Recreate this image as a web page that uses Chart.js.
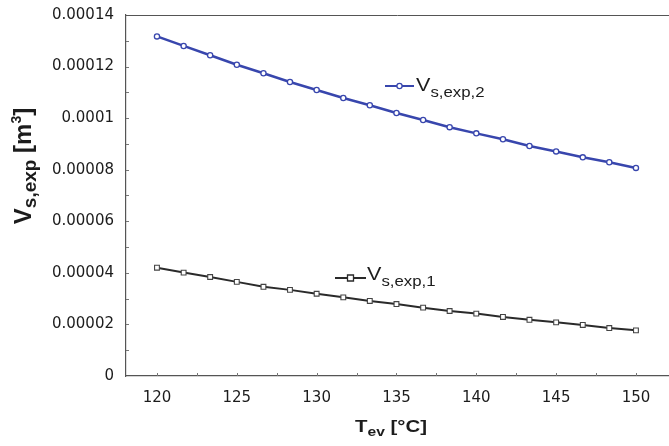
<!DOCTYPE html>
<html>
<head>
<meta charset="utf-8">
<script src="https://cdn.jsdelivr.net/npm/chart.js@4/dist/chart.umd.min.js"></script>
<style>
  html, body { margin: 0; padding: 0; background: #ffffff; overflow: hidden; }
  #wrap { width: 669px; height: 446px; }
</style>
</head>
<body>
<div id="wrap"><canvas id="c" width="669" height="446"></canvas></div>
<script>
// ---- data ----
const tEv = [120, 121.67, 123.33, 125, 126.67, 128.33, 130, 131.67, 133.33, 135,
             136.67, 138.33, 140, 141.67, 143.33, 145, 146.67, 148.33, 150];
const vsExp2 = [1.317e-4, 1.280e-4, 1.244e-4, 1.207e-4, 1.174e-4, 1.140e-4, 1.109e-4,
                1.078e-4, 1.050e-4, 1.020e-4, 0.993e-4, 0.965e-4, 0.941e-4, 0.918e-4,
                0.892e-4, 0.871e-4, 0.848e-4, 0.829e-4, 0.807e-4];
const vsExp1 = [4.20e-5, 4.01e-5, 3.84e-5, 3.65e-5, 3.46e-5, 3.34e-5, 3.19e-5,
                3.05e-5, 2.91e-5, 2.79e-5, 2.65e-5, 2.52e-5, 2.42e-5, 2.29e-5,
                2.18e-5, 2.08e-5, 1.98e-5, 1.86e-5, 1.77e-5];
const xTickValues = [120, 125, 130, 135, 140, 145, 150];
const yTickValues = [0, 0.00002, 0.00004, 0.00006, 0.00008, 0.0001, 0.00012, 0.00014];
const yTickLabels = ['0', '0.00002', '0.00004', '0.00006', '0.00008', '0.0001', '0.00012', '0.00014'];
const seriesNames = ['V_s,exp,2', 'V_s,exp,1'];

const FONT = '"Liberation Sans", Arial, Helvetica, sans-serif';
const TICKFONT = '"DejaVu Sans", sans-serif';
const TEXT = '#1c1c1c';
const BLUE = '#3846ad';
const DARK = '#2a2a2a';
const SX = 1.2; // horizontal stretch of the reference lettering

function drawParts(ctx, x, y, parts) {
  let cx = x;
  for (const p of parts) {
    ctx.font = (p.bold ? 'bold ' : '') + p.size + 'px ' + FONT;
    ctx.fillText(p.t, cx, y + (p.dy || 0));
    cx += ctx.measureText(p.t).width;
  }
  return cx - x;
}
function partsWidth(ctx, parts) {
  let w = 0;
  for (const p of parts) {
    ctx.font = (p.bold ? 'bold ' : '') + p.size + 'px ' + FONT;
    w += ctx.measureText(p.t).width;
  }
  return w;
}
function drawStretched(ctx, x, y, parts, sx) {
  ctx.save();
  ctx.translate(x, y);
  ctx.scale(sx, 1);
  drawParts(ctx, 0, 0, parts);
  ctx.restore();
}

const decor = {
  id: 'decor',
  afterDraw(chart) {
    const ctx = chart.ctx;
    const a = chart.chartArea;
    const xs = chart.scales.x, ys = chart.scales.y;
    ctx.save();
    // top frame line
    ctx.strokeStyle = '#555';
    ctx.lineWidth = 1;
    ctx.beginPath();
    ctx.moveTo(a.left, a.top + 0.5);
    ctx.lineTo(a.right, a.top + 0.5);
    ctx.stroke();
    // small inward ticks
    ctx.strokeStyle = '#777';
    ctx.beginPath();
    for (let v = 117.5; v <= 152; v += 2.5) {
      if (v < xs.min || v > xs.max) continue;
      const px = Math.round(xs.getPixelForValue(v)) + 0.5;
      ctx.moveTo(px, a.bottom);
      ctx.lineTo(px, a.bottom - 3);
    }
    for (let i = 1; i < 14; i++) {
      const py = Math.round(ys.getPixelForValue(i * 0.00001)) + 0.5;
      ctx.moveTo(a.left, py);
      ctx.lineTo(a.left + 3, py);
    }
    ctx.stroke();

    ctx.fillStyle = TEXT;
    ctx.textBaseline = 'alphabetic';
    ctx.textAlign = 'left';

    // inline legend labels
    const leg = [
      {x0: 385, x1: 414, y: 86, color: BLUE, shape: 'circle', tx: 416, ty: 91, sub: 's,exp,2'},
      {x0: 335, x1: 366, y: 278, color: DARK, shape: 'rect', tx: 367, ty: 280, sub: 's,exp,1'}
    ];
    for (const l of leg) {
      ctx.strokeStyle = l.color;
      ctx.lineWidth = 2;
      ctx.beginPath();
      ctx.moveTo(l.x0, l.y);
      ctx.lineTo(l.x1, l.y);
      ctx.stroke();
      const mx = (l.x0 + l.x1) / 2;
      ctx.fillStyle = '#fff';
      ctx.lineWidth = 1.3;
      ctx.beginPath();
      if (l.shape === 'circle') ctx.arc(mx, l.y, 2.6, 0, Math.PI * 2);
      else ctx.rect(mx - 3, l.y - 3, 6, 6);
      ctx.fill();
      ctx.stroke();
      ctx.fillStyle = TEXT;
      drawStretched(ctx, l.tx, l.ty, [{t: 'V', size: 18}, {t: l.sub, size: 14, dy: 6}], SX);
    }

    // x axis title
    const xParts = [{t: 'T', size: 17, bold: true}, {t: 'ev', size: 13, bold: true, dy: 4},
                    {t: ' [°C]', size: 17, bold: true}];
    const xw = partsWidth(ctx, xParts) * SX;
    drawStretched(ctx, 391 - xw / 2, 432, xParts, SX);

    // y axis title (rotated)
    const yParts = [{t: 'V', size: 24, bold: true}, {t: 's,exp', size: 19, bold: true, dy: 5},
                    {t: ' [m', size: 24, bold: true}, {t: '3', size: 14, bold: true, dy: -10},
                    {t: ']', size: 24, bold: true}];
    const yw = partsWidth(ctx, yParts);
    ctx.translate(31, 166);
    ctx.rotate(-Math.PI / 2);
    drawParts(ctx, -yw / 2, 0, yParts);
    ctx.restore();
  }
};

const ctxEl = document.getElementById('c');
new Chart(ctxEl, {
  type: 'line',
  data: {
    datasets: [
      {
        label: seriesNames[0],
        data: tEv.map((t, i) => ({x: t, y: vsExp2[i]})),
        borderColor: BLUE,
        borderWidth: 2.5,
        pointStyle: 'circle',
        pointRadius: 2.6,
        pointBackgroundColor: '#ffffff',
        pointBorderColor: BLUE,
        pointBorderWidth: 1.3,
        tension: 0,
        clip: false
      },
      {
        label: seriesNames[1],
        data: tEv.map((t, i) => ({x: t, y: vsExp1[i]})),
        borderColor: DARK,
        borderWidth: 2,
        pointStyle: 'rect',
        pointRadius: 3.4,
        pointBackgroundColor: '#ffffff',
        pointBorderColor: '#444',
        pointBorderWidth: 1.1,
        tension: 0,
        clip: false
      }
    ]
  },
  options: {
    responsive: false,
    animation: false,
    devicePixelRatio: 1,
    layout: { autoPadding: false, padding: { top: 15, right: 0, left: 0, bottom: 0 } },
    plugins: {
      legend: { display: false },
      tooltip: { enabled: false }
    },
    scales: {
      x: {
        type: 'linear',
        min: 118.06,
        max: 152.07,
        grid: { display: false, drawTicks: false },
        border: { display: true, color: '#555', width: 1.2 },
        afterBuildTicks: (s) => { s.ticks = xTickValues.map(v => ({value: v})); },
        afterFit: (s) => { s.height = 70; s.paddingRight = 0; s.paddingLeft = 0; },
        ticks: {
          color: TEXT,
          font: { family: TICKFONT, size: 15 },
          padding: 13,
          maxRotation: 0,
          autoSkip: false
        }
      },
      y: {
        type: 'linear',
        min: 0,
        max: 0.00014,
        grid: { display: false, drawTicks: false },
        border: { display: true, color: '#555', width: 1.2 },
        afterBuildTicks: (s) => { s.ticks = yTickValues.map(v => ({value: v})); },
        afterFit: (s) => { s.width = 126; s.paddingTop = 0; s.paddingBottom = 0; },
        ticks: {
          color: TEXT,
          font: { family: TICKFONT, size: 15 },
          padding: 12,
          autoSkip: false,
          callback: (v, i) => yTickLabels[i]
        }
      }
    }
  },
  plugins: [decor]
});
</script>
</body>
</html>
